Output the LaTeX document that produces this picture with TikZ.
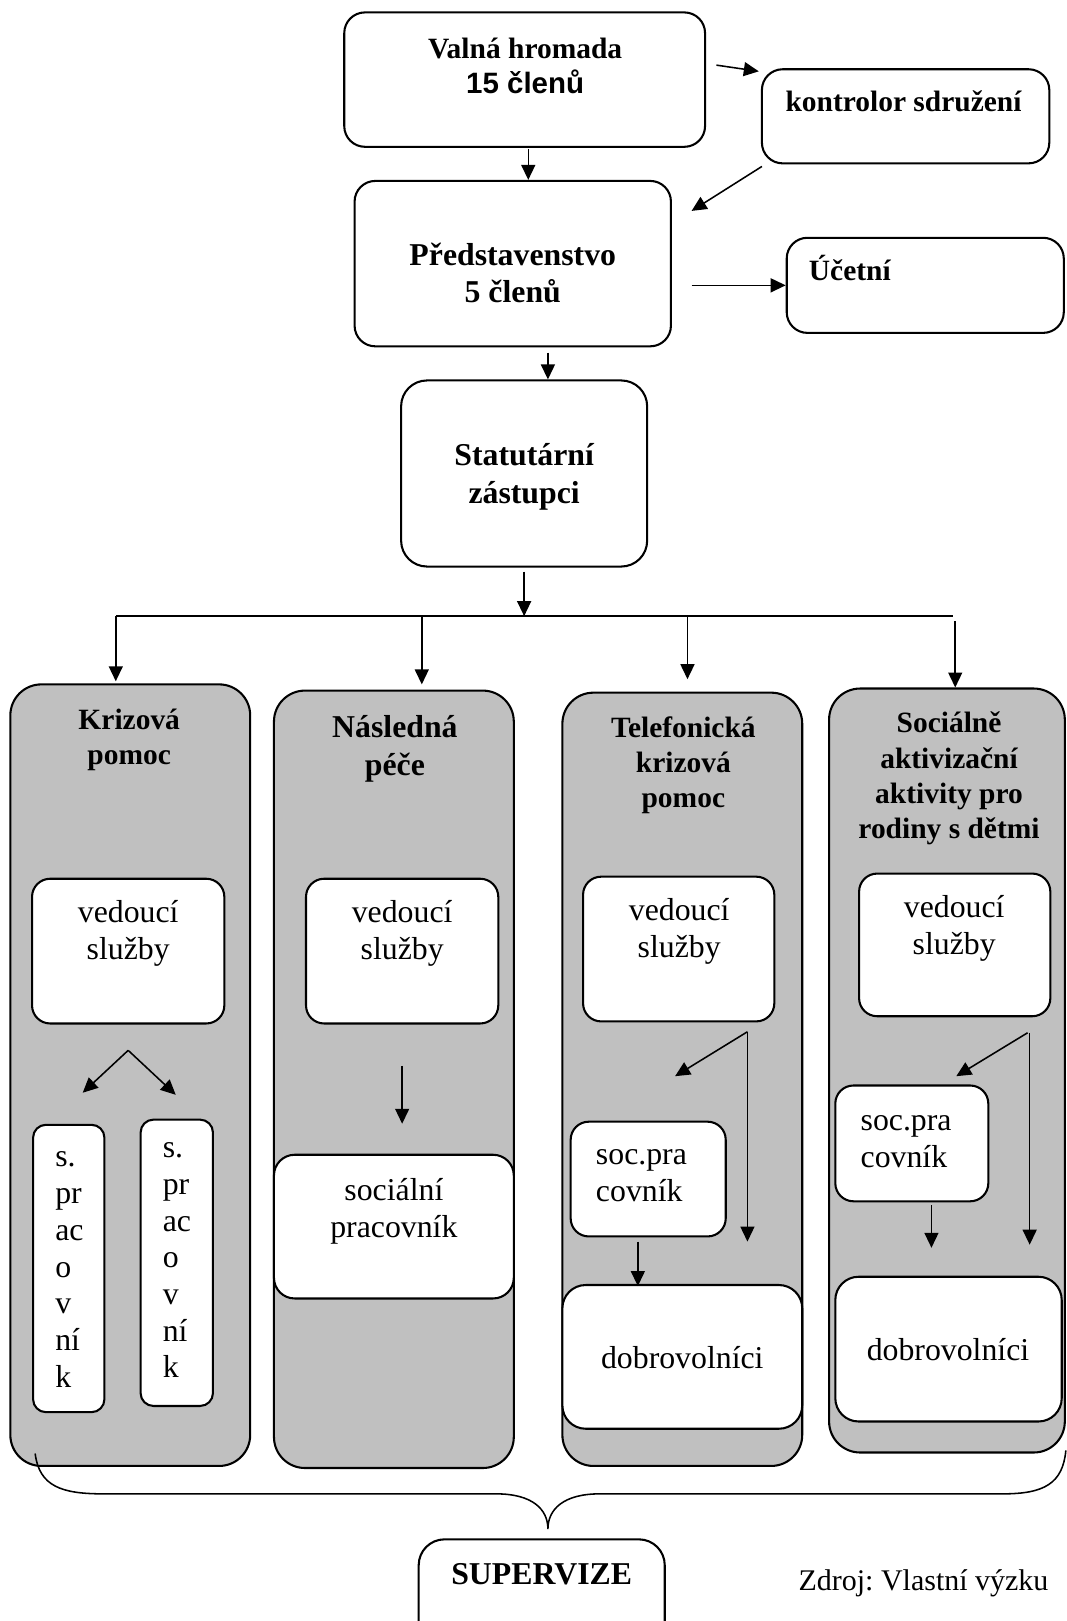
\documentclass[tikz,border=0pt]{standalone}
\usepackage{fontspec}
\setmainfont{Liberation Serif}
\newfontfamily\arialfont{Liberation Sans}
\usetikzlibrary{arrows.meta,calc}
\definecolor{colgray}{RGB}{192,192,192}
\tikzset{
  orgbox/.style={draw,line width=0.8pt,fill=white,rounded corners=8pt,inner sep=0pt},
  colbox/.style={orgbox,fill=colgray,rounded corners=12pt},
  txt/.style={align=center,inner sep=0pt,font=\fontsize{12.3}{14.2}\selectfont},
  head/.style={txt,font=\fontsize{11.4}{13.6}\selectfont\bfseries},
  bighead/.style={txt,font=\fontsize{12.3}{14.6}\selectfont\bfseries},
  arr/.style={line width=0.6pt,-{Triangle[length=5.8pt,width=5.4pt]}},
}
% box given by its corners (x1,y1) (x2,y2), in pixels
\newcommand*\myorgbox[6][]{\node[orgbox,minimum width={(#5-#3)*0.4pt},minimum height={(#6-#4)*0.4pt},#1] (#2) at ({(#3+#5)/2},{(#4+#6)/2}) {};}

\begin{document}
\begin{tikzpicture}[x=0.4pt,y=-0.4pt]
\useasboundingbox (0,0) rectangle (1032,1568);

% top
\myorgbox{valna}{333}{12}{682}{142}
\myorgbox{kontr}{737}{67}{1015}{158}
\myorgbox{predst}{343}{175}{649}{335}
\myorgbox{ucetni}{761}{230}{1029}{322}
\myorgbox[rounded corners=10pt]{statut}{388}{368}{626}{548}

\node[head] (valna-t) at (508,64) {Valná hromada\\{\arialfont 15 členů}};
\node[head] (kontr-t) at (874,98) {kontrolor sdružení};
\node[bighead] (predst-t) at (496,264) {Představenstvo\\5 členů};
\node[head,anchor=west] (ucetni-t) at (782,259) {Účetní};
\node[bighead] (statut-t) at (507,461) {Statutární\\zástupci};

% columns
\myorgbox[colbox]{col1}{10}{662}{242}{1418}
\myorgbox[colbox]{col2}{265}{668}{497}{1420}
\myorgbox[colbox]{col3}{544}{670}{776}{1418}
\myorgbox[colbox]{col4}{802}{666}{1030}{1405}

\node[head] (col1-t) at (125,716) {Krizová\\pomoc};
\node[bighead] (col2-t) at (382,724) {Následná\\péče};
\node[head] (col3-t) at (661,740) {Telefonická\\krizová\\pomoc};
\node[head] (col4-t) at (918,753) {Sociálně\\aktivizační\\aktivity pro\\rodiny s dětmi};

\myorgbox[rounded corners=7pt]{ved1}{31}{850}{217}{990}
\myorgbox[rounded corners=7pt]{ved2}{296}{850}{482}{990}
\myorgbox[rounded corners=7pt]{ved3}{564}{848}{749}{988}
\myorgbox[rounded corners=7pt]{ved4}{831}{845}{1016}{983}
\foreach \v/\x/\y in {1/124/903,2/389/903,3/657/901,4/923/898}
  \node[txt] (ved\v-t) at (\x,\y) {vedoucí\\služby};

\myorgbox[rounded corners=5pt]{sp1}{32}{1088}{101}{1366}
\myorgbox[rounded corners=5pt]{sp2}{136}{1083}{206}{1360}
\node[txt,align=left,anchor=west] (sp1-t) at (53,1228) {s.\\pr\\ac\\o\\v\\ní\\k};
\node[txt,align=left,anchor=west] (sp2-t) at (157,1219) {s.\\pr\\ac\\o\\v\\ní\\k};

\myorgbox{soc2}{265}{1117}{497}{1256}
\node[txt] (soc2-t) at (381,1172) {sociální\\pracovník};

\myorgbox[rounded corners=7pt]{soc3}{552}{1085}{702}{1196}
\myorgbox[rounded corners=9pt]{dob3}{544}{1243}{776}{1382}
\node[txt,align=left,anchor=west] (soc3-t) at (576,1137) {soc.pra\\covník};
\node[txt] (dob3-t) at (660,1313) {dobrovolníci};

\myorgbox[rounded corners=7pt]{soc4}{808}{1050}{956}{1162}
\myorgbox[rounded corners=9pt]{dob4}{808}{1235}{1027}{1375}
\node[txt,align=left,anchor=west] (soc4-t) at (832,1104) {soc.pra\\covník};
\node[txt] (dob4-t) at (917,1305) {dobrovolníci};

% arrows, top
\draw[arr] ($(valna.east)+(10,-14)$) -- ($(kontr.north west)+(-2,3)$);
\coordinate (v1) at ($(valna.south)+(3.5,1)$);
\draw[arr] (v1) -- (v1 |- predst.north);
\draw[arr] ($(kontr.south west)+(1,2)$) -- ($(predst.north east)+(19,30)$);
\coordinate (p1) at ($(predst.east |- ucetni.west)+(19,0)$);
\draw[arr] (p1) -- (ucetni.west);
\draw[arr] ($(predst.south)+(34,5)$) -- ($(statut.north)+(23,0)$);

% bus
\coordinate (b1) at (112,596);
\coordinate (b2) at (408,596);
\coordinate (b3) at (665,596);
\coordinate (b4) at (924,601);
\coordinate (busR) at (922,596);
\coordinate (s1) at ($(statut.south)+(0,4)$);
\draw[arr] (s1) -- (s1 |- b1);
\draw[line width=0.6pt] (b1) -- (busR);
\foreach \c/\g in {1/2,2/5,3/12}
  \draw[arr] (b\c) -- ($(b\c |- col\c.north)+(0,-\g)$);
\draw[arr] (b4) -- (b4 |- col4.north);

% arrows inside columns
\coordinate (k1) at ($(ved1.south)+(0,25)$);
\draw[arr] (k1) -- ($(sp1.north)+(13.5,-30)$);
\draw[arr] (k1) -- ($(sp2.north)+(-1,-23)$);

\draw[arr] ($(ved2.south)+(0,40)$) -- ($(ved2.south |- soc2.north)+(0,-29)$);

\coordinate (k3) at ($(ved3.south east)+(-27,9)$);
\draw[arr] (k3) -- ($(soc3.north east)+(-50,-43)$);
\draw[arr] (k3) -- ($(k3 |- soc3.south)+(0,4)$);
\coordinate (c3) at ($(soc3.south)+(-10,4)$);
\draw[arr] (c3) -- ($(c3 |- dob3.north)+(0,2)$);

\coordinate (k4) at ($(ved4.south east)+(-21,15)$);
\draw[arr] ($(k4)+(-2,0)$) -- ($(soc4.north east)+(-32,-8)$);
\draw[arr] (k4) -- ($(k4 |- soc4.south)+(0,41)$);
\coordinate (c4) at ($(soc4.south)+(19,3)$);
\draw[arr] (c4) -- ($(c4 |- dob4.north)+(0,-27)$);

% brace
\myorgbox[rounded corners=10pt]{superv}{405}{1489}{643}{1600}
\node[bighead] (superv-t) at (524,1523) {SUPERVIZE};
\coordinate (brL) at ($(col1.south west)+(25,-13)$);
\coordinate (brR) at ($(col4.south east)+(0,-3)$);
\coordinate (brT) at ($(superv.north)+(6,-9)$);
\draw[line width=0.6pt] (brL) .. controls (38,1438) and (60,1445) .. (100,1445) -- (480,1445)
  .. controls (515,1445) and (530,1460) .. (brT) .. controls (530,1460) and (545,1445) .. (580,1445)
  -- (970,1445) .. controls (1010,1445) and (1028,1435) .. (brR);

\node[txt,anchor=west,font=\fontsize{11.6}{14}\selectfont] (zdroj) at (772,1532) {Zdroj:\ Vlastní výzku};
\end{tikzpicture}
\end{document}
